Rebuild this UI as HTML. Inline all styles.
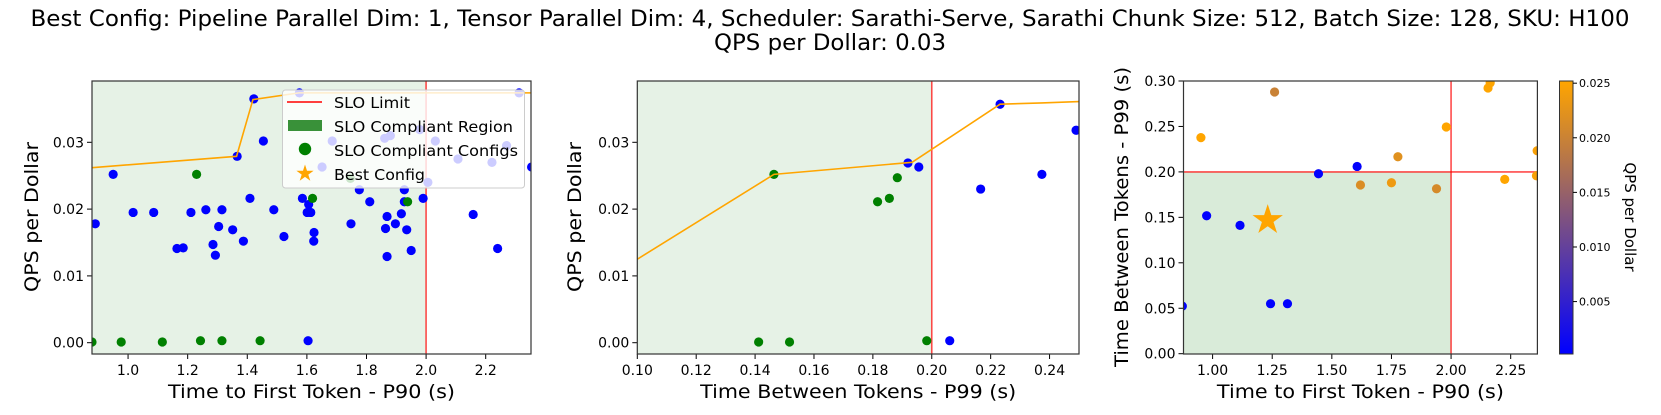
<!DOCTYPE html>
<html><head><meta charset="utf-8"><style>
html,body{margin:0;padding:0;background:#fff;}
svg{display:block;font-family:"DejaVu Sans","Liberation Sans",sans-serif;}
</style></head><body>
<svg id="fig" width="1661" height="415" viewBox="0 0 1661 415">
<defs>
<clipPath id="c1"><rect x="92" y="81" width="439" height="273"/></clipPath>
<clipPath id="c2"><rect x="637.3" y="81" width="441.7" height="273"/></clipPath>
<clipPath id="c3"><rect x="1183.5" y="81" width="353.9" height="273"/></clipPath>
<linearGradient id="cmap" x1="0" y1="1" x2="0" y2="0"><stop offset="0" stop-color="#0000ff"/><stop offset="1" stop-color="#ffa500"/></linearGradient>
</defs>
<text x="830" y="26" font-size="22" text-anchor="middle" textLength="1599" lengthAdjust="spacingAndGlyphs">Best Config: Pipeline Parallel Dim: 1, Tensor Parallel Dim: 4, Scheduler: Sarathi-Serve, Sarathi Chunk Size: 512, Batch Size: 128, SKU: H100</text>
<text x="830" y="50" font-size="22" text-anchor="middle" textLength="232" lengthAdjust="spacingAndGlyphs">QPS per Dollar: 0.03</text>
<g id="p1"></g>
<g id="p2"></g>
<g id="p3"></g>
</svg>
<script>
// Panel 1 data: TTFT P90 vs QPS per dollar
const p1BlueX=[0.890,0.950,1.017,1.086,1.164,1.185,1.211,1.261,1.315,1.304,1.285,1.293,1.351,1.366,1.387,1.409,1.422,1.454,1.489,1.523,1.585,1.606,1.601,1.613,1.624,1.623,1.604,1.748,1.776,1.811,1.869,1.864,1.869,1.897,1.917,1.927,1.927,1.935,1.950,1.990,2.158,2.240,1.575,1.651,1.685,1.861,1.880,1.979,2.031,2.107,2.221,2.270,2.312,2.006,2.354];
const p1BlueY=[0.0178,0.0252,0.0195,0.0195,0.0141,0.0142,0.0195,0.0199,0.0199,0.0174,0.0147,0.0131,0.0169,0.0279,0.0152,0.0216,0.0365,0.0302,0.0199,0.0159,0.0216,0.0207,0.0195,0.0195,0.0165,0.0152,0.0003,0.0178,0.0229,0.0211,0.0189,0.0171,0.0129,0.0178,0.0193,0.0229,0.0211,0.0169,0.0138,0.0216,0.0192,0.0141,0.0374,0.0263,0.0302,0.0306,0.0310,0.0319,0.0302,0.0275,0.0270,0.0295,0.0374,0.0240,0.0263];
const p1GreenX=[0.879,0.977,1.115,1.243,1.315,1.443,1.230,1.619,1.938,1.746];
const p1GreenY=[0.0001,0.0001,0.0001,0.0003,0.0003,0.0003,0.0252,0.0216,0.0211,0.0246];
const p1LineX=[0.879,1.364,1.419,1.573,2.312,2.36];
const p1LineY=[0.0262,0.0279,0.0364,0.0374,0.0374,0.0374];
const p1XTicks=[1.0,1.2,1.4,1.6,1.8,2.0,2.2];
const p1XTickLabels=["1.0","1.2","1.4","1.6","1.8","2.0","2.2"];
const qpsYTicks=[0.00,0.01,0.02,0.03];
const qpsYTickLabels=["0.00","0.01","0.02","0.03"];
// Panel 2 data: TBT P99 vs QPS per dollar
const p2GreenX=[0.1412,0.1517,0.1983,0.1464,0.1816,0.1856,0.1883];
const p2GreenY=[0.0001,0.0001,0.0003,0.0252,0.0211,0.0216,0.0247];
const p2BlueX=[0.1919,0.1956,0.2061,0.2166,0.2232,0.2374,0.2490];
const p2BlueY=[0.0269,0.0263,0.0003,0.0230,0.0357,0.0252,0.0318];
const p2LineX=[0.10,0.1464,0.1933,0.2232,0.2374,0.2500];
const p2LineY=[0.0125,0.0252,0.0270,0.0357,0.0359,0.0361];
const p2XTicks=[0.10,0.12,0.14,0.16,0.18,0.20,0.22,0.24];
const p2XTickLabels=["0.10","0.12","0.14","0.16","0.18","0.20","0.22","0.24"];
// Panel 3 data: TTFT vs TBT colored by QPS per dollar
const p3X=[0.873,0.975,1.115,1.243,1.314,1.444,1.606,0.951,1.260,1.620,1.750,1.777,1.939,1.980,2.155,2.164,2.225,2.361,2.358];
const p3Y=[0.0524,0.1518,0.1412,0.055,0.055,0.198,0.206,0.2377,0.2879,0.1856,0.1881,0.2167,0.1815,0.2494,0.2923,0.298,0.1918,0.2233,0.1958];
const p3C=[0.0003,0.0003,0.0003,0.0003,0.0003,0.0005,0.0005,0.0252,0.0199,0.0216,0.0235,0.0222,0.0211,0.0252,0.0252,0.0252,0.0252,0.0245,0.0245];
const bestX=[1.231];
const bestY=[0.147];
const p3XTicks=[1.00,1.25,1.50,1.75,2.00,2.25];
const p3XTickLabels=["1.00","1.25","1.50","1.75","2.00","2.25"];
const p3YTicks=[0,0.05,0.10,0.15,0.20,0.25,0.30];
const p3YTickLabels=["0.00","0.05","0.10","0.15","0.20","0.25","0.30"];
const cbTicks=[0.005,0.010,0.015,0.020,0.025];
const cbTickLabels=["0.005","0.010","0.015","0.020","0.025"];

const NS="http://www.w3.org/2000/svg";
function mk(parent,tag,attrs){const e=document.createElementNS(NS,tag);for(const k in attrs)e.setAttribute(k,attrs[k]);parent.appendChild(e);return e;}
function lin(d0,d1,r0,r1){return v=>r0+(v-d0)/(d1-d0)*(r1-r0);}

// axes
const A1={x0:92,x1:531,y0:81,y1:354,sx:lin(0.879,2.352,92,531),sy:lin(0,0.03,342.7,142.3)};
const A2={x0:637.3,x1:1079,y0:81,y1:354,sx:lin(0.1,0.25,637.3,1079),sy:lin(0,0.03,342.7,142.3)};
const A3={x0:1183.5,x1:1537.4,y0:81,y1:354,sx:lin(0.878,2.362,1183.5,1537.4),sy:lin(0,0.30,353.7,81)};

function cmap(c){let t=(c-0.0002)/(0.0252-0.0002);t=Math.max(0,Math.min(1,t));return `rgb(${Math.round(255*t)},${Math.round(165*t)},${Math.round(255*(1-t))})`;}

function frame(g,A,xt,xl,yt,yl,xlabel,ylabel,ylx,xlLen,ylLen){
  for(let i=0;i<xt.length;i++){const x=A.sx(xt[i]);
    const t=mk(g,'line',{x1:x,x2:x,y1:A.y1,y2:A.y1+5,stroke:'#000','stroke-width':1});
    
    const l=mk(g,'text',{x:x,y:A.y1+21,'font-size':14,'text-anchor':'middle'});l.textContent=xl[i];
    }
  for(let i=0;i<yt.length;i++){const y=A.sy(yt[i]);
    const t=mk(g,'line',{x1:A.x0-5,x2:A.x0,y1:y,y2:y,stroke:'#000','stroke-width':1});
    
    const l=mk(g,'text',{x:A.x0-8,y:y+5,'font-size':14,'text-anchor':'end'});l.textContent=yl[i];
    }
  const r=mk(g,'rect',{x:A.x0,y:A.y0,width:A.x1-A.x0,height:A.y1-A.y0,fill:'none',stroke:'#333','stroke-width':1.2});
  
  const cx=(A.x0+A.x1)/2;
  const xlab=mk(g,'text',{x:cx,y:398,'font-size':19,'text-anchor':'middle',textLength:xlLen,lengthAdjust:'spacingAndGlyphs'});xlab.textContent=xlabel;
  
  const ylab=mk(g,'text',{x:0,y:0,'font-size':19,'text-anchor':'middle',transform:`translate(${ylx},217) rotate(-90)`,textLength:ylLen,lengthAdjust:'spacingAndGlyphs'});ylab.textContent=ylabel;
  
}
function dots(g,A,xs,ys,color,r){for(let i=0;i<xs.length;i++){
  const c=mk(g,'circle',{cx:A.sx(xs[i]),cy:A.sy(ys[i]),r:r||4.6,fill:typeof color==='function'?color(i):color});
  }}
function pline(g,A,xs,ys){const p=mk(g,'polyline',{points:xs.map((x,i)=>A.sx(x)+','+A.sy(ys[i])).join(' '),fill:'none',stroke:'#ffa500','stroke-width':1.6});
  }
function star(g,cx,cy,R,fill){const pts=[];for(let k=0;k<10;k++){const rr=k%2?R*0.382:R;const a=-Math.PI/2+k*Math.PI/5;pts.push((cx+rr*Math.cos(a)).toFixed(1)+','+(cy+rr*Math.sin(a)).toFixed(1));}
  return mk(g,'polygon',{points:pts.join(' '),fill:fill});}

// Panel 1
(function(){const g=document.getElementById('p1');const A=A1;
  const cg=mk(g,'g',{'clip-path':'url(#c1)'});
  const f=mk(cg,'rect',{x:A.x0,y:A.y0,width:A.sx(2.0)-A.x0,height:A.y1-A.y0,fill:'#e6f2e6'});
  
  const sl=mk(cg,'line',{x1:A.sx(2.0),x2:A.sx(2.0),y1:A.y0,y2:A.y1,stroke:'#ff0000','stroke-opacity':0.7,'stroke-width':1.6});
  
  dots(cg,A,p1BlueX,p1BlueY,'#0000ff');
  dots(cg,A,p1GreenX,p1GreenY,'#008000');
  pline(cg,A,p1LineX,p1LineY);
  frame(g,A,p1XTicks,p1XTickLabels,qpsYTicks,qpsYTickLabels,'Time to First Token - P90 (s)','QPS per Dollar',38,287,150);
  // legend
  const lg=mk(g,'g',{});
  mk(lg,'rect',{x:282.5,y:90,width:242,height:98,rx:3,fill:'#fff','fill-opacity':0.8,stroke:'#ccc','stroke-width':1});
  const e1=mk(lg,'line',{x1:287,x2:322,y1:102,y2:102,stroke:'#ff0000','stroke-width':1.6});
  
  const e2=mk(lg,'rect',{x:288,y:120,width:34,height:11,fill:'#2e8b2e','fill-opacity':0.95});
  
  const e3=mk(lg,'circle',{cx:305,cy:149,r:6.2,fill:'#008000'});
  
  const e4=star(lg,305,173.5,9,'#ffa500');
  
  const labs=['SLO Limit','SLO Compliant Region','SLO Compliant Configs','Best Config'];
  const lens=[76,179,184,91];
  labs.forEach((s,i)=>{const t=mk(lg,'text',{x:334,y:108+i*24,'font-size':15.5,textLength:lens[i],lengthAdjust:'spacingAndGlyphs'});t.textContent=s;
    });
})();

// Panel 2
(function(){const g=document.getElementById('p2');const A=A2;
  const cg=mk(g,'g',{'clip-path':'url(#c2)'});
  const f=mk(cg,'rect',{x:A.x0,y:A.y0,width:A.sx(0.2)-A.x0,height:A.y1-A.y0,fill:'#e6f2e6'});
  
  const sl=mk(cg,'line',{x1:A.sx(0.2),x2:A.sx(0.2),y1:A.y0,y2:A.y1,stroke:'#ff0000','stroke-opacity':0.7,'stroke-width':1.6});
  
  dots(cg,A,p2GreenX,p2GreenY,'#008000');
  dots(cg,A,p2BlueX,p2BlueY,'#0000ff');
  pline(cg,A,p2LineX,p2LineY);
  frame(g,A,p2XTicks,p2XTickLabels,qpsYTicks,qpsYTickLabels,'Time Between Tokens - P99 (s)','QPS per Dollar',581,316,150);
})();

// Panel 3
(function(){const g=document.getElementById('p3');const A=A3;
  const cg=mk(g,'g',{'clip-path':'url(#c3)'});
  const f=mk(cg,'rect',{x:A.x0,y:A.sy(0.2),width:A.sx(2.0)-A.x0,height:A.y1-A.sy(0.2),fill:'#d9ebd9'});
  
  const s1=mk(cg,'line',{x1:A.sx(2.0),x2:A.sx(2.0),y1:A.y0,y2:A.y1,stroke:'#ff0000','stroke-opacity':0.7,'stroke-width':1.6});
  
  const s2=mk(cg,'line',{x1:A.x0,x2:A.x1,y1:A.sy(0.2),y2:A.sy(0.2),stroke:'#ff0000','stroke-opacity':0.7,'stroke-width':1.6});
  
  dots(cg,A,p3X,p3Y,i=>cmap(p3C[i]));
  const st=star(cg,A.sx(bestX[0]),A.sy(bestY[0]),16,'#ffa500');
  
  frame(g,A,p3XTicks,p3XTickLabels,p3YTicks,p3YTickLabels,'Time to First Token - P90 (s)','Time Between Tokens - P99 (s)',1128,287,300);
  // colorbar
  const cb=mk(g,'g',{});
  const cy=lin(0.0002,0.0252,354,81);
  mk(cb,'rect',{x:1559.5,y:81,width:13.5,height:273,fill:'url(#cmap)',stroke:'#333','stroke-width':1});
  cbTicks.forEach((v,i)=>{const y=cy(v);mk(cb,'line',{x1:1573,x2:1577,y1:y,y2:y,stroke:'#000'});
    const t=mk(cb,'text',{x:1579,y:y+4,'font-size':11});t.textContent=cbTickLabels[i];
    });
  const cl=mk(cb,'text',{x:0,y:0,'font-size':15,'text-anchor':'middle',transform:'translate(1625,217) rotate(90)'});cl.textContent='QPS per Dollar';
  
})();
</script>
</body></html>
